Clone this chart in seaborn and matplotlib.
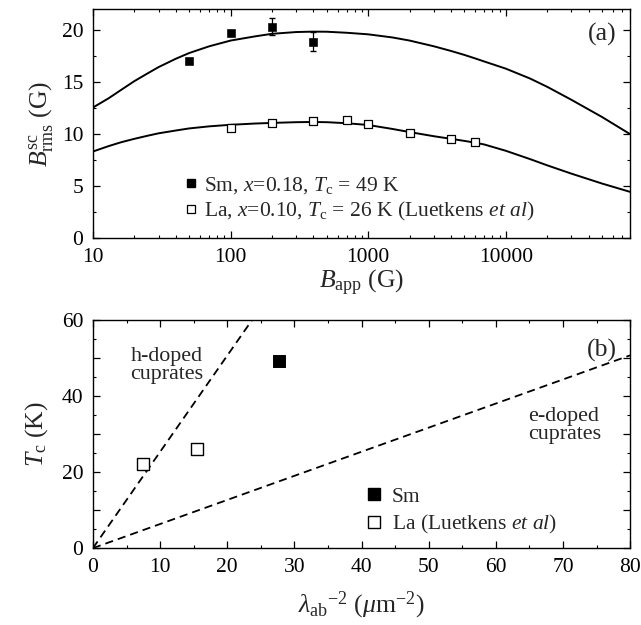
import numpy as np
import pandas as pd
import seaborn as sns
import matplotlib
matplotlib.use("Agg")
import matplotlib.pyplot as plt
from matplotlib.ticker import MultipleLocator, LogLocator, NullFormatter, FuncFormatter
from matplotlib.lines import Line2D

# panel (a): measured points
sm_B = [50, 100, 200, 400]
sm_rms = [17.0, 19.7, 20.35, 18.9]
sm_err = [0.0, 0.0, 0.8, 0.93]
la_B = [100, 200, 400, 700, 1000, 2000, 4000, 6000]
la_rms = [10.62, 11.05, 11.3, 11.4, 10.96, 10.1, 9.55, 9.22]

# panel (a): fitted curves
fit_B = [10, 13, 16, 20, 25, 30, 40, 50, 70, 100, 150, 200, 300, 400, 500, 700,
         1000, 1500, 2000, 3000, 4000, 5000, 6000, 7000, 10000, 15000, 20000,
         30000, 50000, 80000]
sm_fit = [12.56, 13.45, 14.25, 15.1, 15.85, 16.45, 17.25, 17.8, 18.45, 19.0, 19.4,
          19.65, 19.82, 19.86, 19.85, 19.75, 19.6, 19.3, 19.0, 18.45, 18.0, 17.62,
          17.28, 16.98, 16.3, 15.35, 14.55, 13.3, 11.65, 10.0]
la_fit = [8.33, 8.85, 9.22, 9.55, 9.85, 10.08, 10.35, 10.55, 10.75, 10.9, 11.02,
          11.08, 11.15, 11.17, 11.15, 11.05, 10.88, 10.5, 10.2, 9.8, 9.55, 9.35,
          9.18, 9.0, 8.4, 7.6, 7.0, 6.2, 5.25, 4.45]

# panel (b)
sm_lam = [27.7]
sm_tc = [49.1]
la_lam = [7.5, 15.45]
la_tc = [22.1, 26.0]
h_line_x = [0, 23.7]
h_line_y = [0, 60]
e_line_x = [0, 80]
e_line_y = [0, 50.7]

sns.set_style("ticks")
plt.rcParams['font.family'] = ['Liberation Serif', 'DejaVu Serif']
plt.rcParams['mathtext.fontset'] = 'custom'
plt.rcParams['mathtext.rm'] = 'Liberation Serif'
plt.rcParams['mathtext.it'] = 'Liberation Serif:italic'
plt.rcParams['mathtext.bf'] = 'Liberation Serif:bold'
plt.rcParams['axes.edgecolor'] = 'black'
plt.rcParams['axes.linewidth'] = 1.0

fig = plt.figure(figsize=(6.41, 6.25), dpi=100)
ax1 = fig.add_axes([0.145, 0.619, 0.838, 0.366])
ax2 = fig.add_axes([0.145, 0.123, 0.838, 0.365])

fit_df = pd.DataFrame({"B": fit_B, "sm": sm_fit, "la": la_fit})
sns.lineplot(data=fit_df, x="B", y="sm", ax=ax1, color="black", lw=1.4)
sns.lineplot(data=fit_df, x="B", y="la", ax=ax1, color="black", lw=1.4)
ax1.errorbar(sm_B, sm_rms, yerr=sm_err, fmt="none", ecolor="black", elinewidth=0.9, capsize=2.5)
sns.scatterplot(x=sm_B, y=sm_rms, ax=ax1, marker="s", s=32, color="black", edgecolor="black", zorder=5)
sns.scatterplot(x=la_B, y=la_rms, ax=ax1, marker="s", s=30, color="white", edgecolor="black",
                linewidth=0.9, zorder=5)
ax1.set_xscale("log")
ax1.set_xlim(10, 80000)
ax1.set_ylim(0, 22)
ax1.yaxis.set_major_locator(MultipleLocator(5))
ax1.yaxis.set_minor_locator(MultipleLocator(2.5))
ax1.xaxis.set_major_locator(LogLocator(base=10, numticks=10))
ax1.xaxis.set_minor_locator(LogLocator(base=10, subs=np.arange(2, 10), numticks=20))
ax1.xaxis.set_minor_formatter(NullFormatter())
ax1.xaxis.set_major_formatter(FuncFormatter(lambda v, p: "%d" % v))
ax1.set_xlabel(r"$B_{\rm app}$ (G)", fontsize=18.5, labelpad=1)
ax1.set_ylabel(r"$B^{\rm sc}_{\rm rms}$ (G)", fontsize=18.5, labelpad=5)
ax1.text(0.975, 0.89, "(a)", transform=ax1.transAxes, ha="right", va="center", fontsize=18.5)
h1 = [Line2D([], [], ls="none", marker="s", ms=5.5, mfc="black", mec="black"),
      Line2D([], [], ls="none", marker="s", ms=5.5, mfc="white", mec="black", mew=0.9)]
ax1.legend(h1, [r"Sm, $x$=0.18, $T_{\rm c}$ = 49 K",
                r"La, $x$=0.10, $T_{\rm c}$ = 26 K (Luetkens $et\ al$)"],
           loc="lower left", bbox_to_anchor=(0.15, 0.017), frameon=False, fontsize=15.5,
           handlelength=0.6, handletextpad=0.3, labelspacing=0.2, borderpad=0)

sns.lineplot(x=h_line_x, y=h_line_y, ax=ax2, color="black", lw=1.3, linestyle=(0, (4.5, 2.8)))
sns.lineplot(x=e_line_x, y=e_line_y, ax=ax2, color="black", lw=1.3, linestyle=(0, (4.5, 2.8)))
sns.scatterplot(x=sm_lam, y=sm_tc, ax=ax2, marker="s", s=75, color="black", edgecolor="black", zorder=5)
sns.scatterplot(x=la_lam, y=la_tc, ax=ax2, marker="s", s=75, color="white", edgecolor="black",
                linewidth=1.0, zorder=5)
ax2.set_xlim(0, 80)
ax2.set_ylim(0, 60)
ax2.xaxis.set_major_locator(MultipleLocator(10))
ax2.xaxis.set_minor_locator(MultipleLocator(5))
ax2.yaxis.set_major_locator(MultipleLocator(10))
ax2.yaxis.set_minor_locator(MultipleLocator(5))
ax2.yaxis.set_major_formatter(FuncFormatter(lambda v, p: "%d" % v if int(round(v)) % 20 == 0 else ""))
ax2.set_xlabel(r"$\lambda_{\rm ab}{}^{-2}$ ($\mu$m$^{-2}$)", fontsize=18.5, labelpad=9)
ax2.set_ylabel(r"$T_{\rm c}$ (K)", fontsize=18.5, labelpad=8)
ax2.text(0.975, 0.865, "(b)", transform=ax2.transAxes, ha="right", va="center", fontsize=18.5)
ax2.text(5.6, 48, "h-doped\ncuprates", ha="left", va="center", fontsize=15.8, linespacing=0.95)
ax2.text(64.8, 32.3, "e-doped\ncuprates", ha="left", va="center", fontsize=15.8, linespacing=0.95)
h2 = [Line2D([], [], ls="none", marker="s", ms=8.5, mfc="black", mec="black"),
      Line2D([], [], ls="none", marker="s", ms=8.5, mfc="white", mec="black", mew=1.0)]
ax2.legend(h2, ["Sm", r"La (Luetkens $et\ al$)"], loc="lower left", bbox_to_anchor=(0.488, 0.004),
           frameon=False, fontsize=15.5, handlelength=0.8, handletextpad=0.4,
           labelspacing=0.3, borderpad=0)

for ax in (ax1, ax2):
    ax.tick_params(which="both", direction="in", top=True, right=True, labelsize=15.5,
                   colors="black")
    ax.tick_params(which="major", length=5, width=0.9, pad=7)
    ax.tick_params(which="minor", length=2.5, width=0.8)
    for s in ax.spines.values():
        s.set_visible(True)
        s.set_color("black")

fig.savefig("out.png", dpi=100)
